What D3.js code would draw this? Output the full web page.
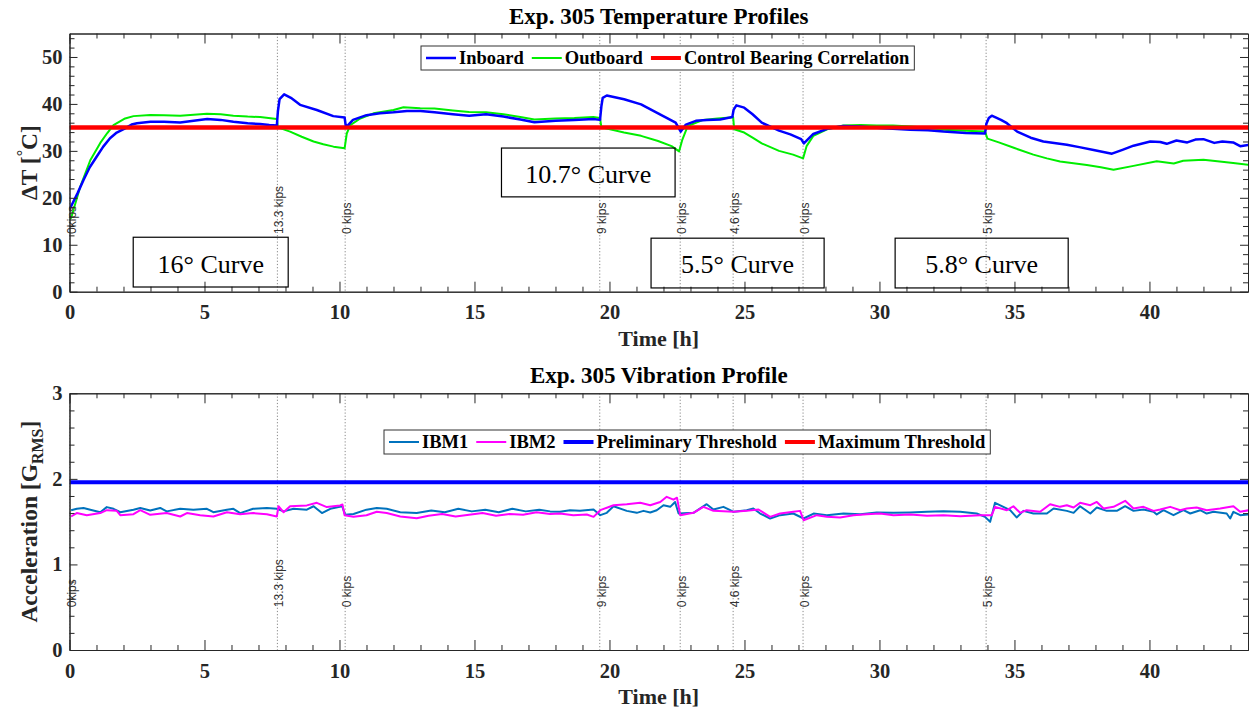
<!DOCTYPE html>
<html>
<head>
<meta charset="utf-8">
<script src="https://cdn.jsdelivr.net/npm/d3@7"></script>
<style>
  body { margin: 0; background: #fff; }
  svg { display: block; }
  text { font-family: "Liberation Serif", "Times New Roman", serif; }
</style>
</head>
<body>
<div id="chart"></div>
<script>
// ---- temperature profiles (deg C vs hours) ----
const inboardTime = [0, 0.06, 0.3, 0.52, 0.75, 1.01, 1.25, 1.5, 1.75, 2.06, 2.3, 2.5, 3.0, 3.5, 4.1, 4.6, 5.1, 5.6, 6.07, 6.6, 7.06, 7.4, 7.68, 7.72, 7.78, 7.95, 8.2, 8.54, 9.16, 9.77, 10.19, 10.24, 10.5, 11.0, 11.5, 12.0, 12.5, 13.0, 13.52, 14.2, 14.8, 15.43, 16.07, 16.7, 17.22, 18.0, 18.7, 19.4, 19.65, 19.7, 19.75, 19.9, 20.54, 21.17, 21.8, 22.45, 22.64, 22.83, 23.2, 23.6, 24.1, 24.55, 24.6, 24.7, 24.99, 25.3, 25.64, 26.02, 26.28, 26.7, 27.1, 27.2, 27.55, 28.06, 28.66, 29.3, 29.9, 30.5, 31.14, 31.8, 32.37, 33.2, 33.91, 33.96, 34.05, 34.16, 34.5, 34.72, 35.1, 35.6, 36.07, 36.94, 37.4, 37.93, 38.61, 39.0, 39.41, 40.03, 40.4, 40.64, 41.0, 41.2, 41.4, 41.7, 42.0, 42.4, 42.7, 43.1, 43.36, 43.7];
const inboardTemp = [17.5, 18.2, 21.0, 23.8, 26.5, 28.8, 30.9, 32.7, 33.9, 34.8, 35.6, 35.9, 36.2, 36.2, 36.05, 36.4, 36.8, 36.6, 36.2, 35.9, 35.7, 35.5, 35.4, 38.5, 41.0, 42.05, 41.3, 39.8, 38.7, 37.4, 37.1, 35.0, 36.6, 37.6, 38.0, 38.2, 38.5, 38.5, 38.2, 37.8, 37.5, 37.8, 37.3, 36.7, 36.1, 36.4, 36.6, 36.8, 36.6, 39.5, 41.3, 41.8, 41.0, 39.9, 38.0, 36.0, 34.1, 35.6, 36.4, 36.6, 36.7, 37.2, 38.8, 39.7, 39.2, 37.8, 36.0, 35.0, 34.3, 33.5, 32.5, 31.6, 33.6, 34.7, 35.3, 35.2, 34.9, 34.7, 34.5, 34.4, 34.1, 33.8, 33.7, 35.8, 37.0, 37.5, 36.6, 35.9, 34.1, 32.8, 32.0, 31.3, 30.8, 30.2, 29.4, 30.2, 31.1, 32.0, 31.9, 31.5, 32.2, 32.0, 31.8, 32.4, 32.5, 31.7, 32.0, 31.8, 31.0, 31.3];
const outboardTime = [0, 0.06, 0.4, 0.77, 1.14, 1.4, 1.63, 2.06, 2.37, 2.99, 3.5, 4.1, 4.6, 5.09, 5.6, 6.07, 6.6, 7.06, 7.68, 7.72, 8.17, 8.6, 9.04, 9.4, 9.78, 10.19, 10.27, 10.4, 10.77, 11.26, 12.0, 12.37, 12.99, 13.52, 14.2, 14.8, 15.43, 16.07, 16.7, 17.22, 18.0, 18.7, 19.4, 19.65, 19.7, 20.54, 21.17, 21.8, 22.3, 22.58, 22.7, 22.9, 23.47, 24.0, 24.48, 24.58, 24.62, 24.99, 25.3, 25.64, 26.28, 26.8, 27.17, 27.3, 27.55, 28.06, 28.66, 29.3, 29.9, 30.5, 31.14, 31.8, 32.37, 33.2, 33.91, 34.0, 34.42, 35.0, 35.7, 36.2, 36.69, 37.68, 38.2, 38.67, 39.41, 40.27, 40.9, 41.25, 42.0, 42.6, 43.1, 43.7];
const outboardTemp = [15.5, 15.7, 22.4, 28.0, 31.7, 33.8, 35.5, 36.9, 37.4, 37.65, 37.6, 37.5, 37.7, 37.9, 37.8, 37.5, 37.3, 37.2, 36.8, 35.0, 34.1, 33.0, 32.0, 31.4, 30.9, 30.55, 33.7, 35.5, 36.9, 38.0, 38.7, 39.3, 39.1, 39.0, 38.6, 38.3, 38.2, 37.8, 37.2, 36.7, 36.9, 37.0, 37.2, 37.0, 35.0, 33.9, 33.2, 32.1, 31.0, 29.9, 32.4, 35.3, 36.6, 36.9, 37.1, 37.2, 34.6, 33.9, 32.8, 31.6, 30.0, 29.2, 28.4, 31.0, 33.2, 34.6, 35.4, 35.5, 35.4, 35.4, 35.2, 34.9, 34.5, 34.3, 34.1, 32.6, 31.8, 30.6, 29.2, 28.4, 27.75, 27.0, 26.5, 25.98, 26.8, 27.8, 27.3, 27.9, 28.1, 27.75, 27.4, 27.0];
const controlCorrelation = 35;

// ---- vibration profiles (G RMS vs hours) ----
const ibm1Time = [0.06, 0.27, 0.52, 0.77, 1.14, 1.38, 1.63, 1.88, 2.37, 2.62, 2.99, 3.36, 3.6, 4.1, 4.59, 5.09, 5.33, 5.83, 6.07, 6.32, 6.8, 7.31, 7.68, 7.93, 8.3, 8.79, 9.04, 9.35, 9.66, 10.1, 10.21, 10.52, 11.0, 11.38, 11.75, 12.25, 12.86, 13.4, 13.9, 14.4, 14.9, 15.4, 15.9, 16.4, 16.9, 17.4, 17.8, 18.17, 18.54, 18.91, 19.41, 19.66, 19.9, 20.15, 20.64, 21.01, 21.26, 21.51, 21.75, 22.0, 22.25, 22.43, 22.56, 23.11, 23.6, 23.85, 24.22, 24.6, 25.08, 25.33, 25.58, 25.95, 26.32, 26.81, 27.19, 27.56, 28.05, 28.67, 29.29, 29.9, 30.52, 31.14, 31.76, 32.37, 32.99, 33.6, 33.91, 34.1, 34.28, 34.59, 34.84, 35.08, 35.33, 35.7, 35.83, 36.2, 36.45, 36.94, 37.19, 37.43, 37.81, 38.05, 38.42, 38.79, 39.1, 39.41, 39.78, 40.15, 40.27, 40.52, 40.89, 41.26, 41.51, 41.88, 42.12, 42.37, 42.86, 42.99, 43.11, 43.36, 43.69];
const ibm1Acc = [1.634, 1.65, 1.66, 1.64, 1.61, 1.67, 1.65, 1.61, 1.64, 1.66, 1.63, 1.66, 1.62, 1.65, 1.64, 1.65, 1.61, 1.64, 1.65, 1.60, 1.65, 1.66, 1.65, 1.62, 1.65, 1.64, 1.68, 1.60, 1.65, 1.68, 1.58, 1.59, 1.64, 1.66, 1.65, 1.61, 1.60, 1.63, 1.61, 1.65, 1.62, 1.64, 1.61, 1.65, 1.62, 1.64, 1.62, 1.615, 1.634, 1.626, 1.642, 1.576, 1.603, 1.68, 1.626, 1.603, 1.626, 1.607, 1.634, 1.692, 1.673, 1.73, 1.595, 1.603, 1.704, 1.642, 1.673, 1.615, 1.634, 1.653, 1.595, 1.537, 1.576, 1.595, 1.537, 1.595, 1.576, 1.595, 1.587, 1.607, 1.603, 1.607, 1.615, 1.622, 1.615, 1.595, 1.556, 1.498, 1.72, 1.673, 1.634, 1.549, 1.626, 1.595, 1.595, 1.595, 1.653, 1.626, 1.603, 1.68, 1.595, 1.665, 1.626, 1.626, 1.68, 1.626, 1.642, 1.615, 1.584, 1.634, 1.576, 1.634, 1.595, 1.634, 1.595, 1.615, 1.595, 1.537, 1.615, 1.576, 1.584];
const ibm2Time = [0.06, 0.27, 0.64, 1.14, 1.38, 1.75, 1.88, 2.37, 2.62, 2.99, 3.6, 4.1, 4.35, 4.84, 5.33, 5.83, 6.32, 6.8, 7.31, 7.68, 7.74, 7.93, 8.17, 8.79, 9.16, 9.53, 10.02, 10.11, 10.19, 10.52, 11.0, 11.38, 11.75, 12.25, 12.86, 13.3, 13.8, 14.3, 14.8, 15.3, 15.8, 16.3, 16.8, 17.3, 17.8, 18.17, 18.66, 19.16, 19.41, 19.66, 20.15, 20.64, 21.14, 21.51, 21.88, 22.12, 22.37, 22.5, 22.62, 23.11, 23.48, 23.85, 24.6, 25.08, 25.52, 25.95, 26.32, 26.81, 27.06, 27.19, 27.68, 28.05, 28.54, 29.04, 29.53, 30.02, 30.52, 31.14, 31.76, 32.37, 32.99, 33.73, 34.16, 34.28, 34.72, 34.96, 35.21, 35.45, 35.95, 36.32, 36.69, 36.94, 37.19, 37.43, 37.81, 38.05, 38.3, 38.67, 39.1, 39.41, 39.78, 40.15, 40.4, 40.77, 41.14, 41.38, 41.75, 42.12, 42.62, 43.11, 43.36, 43.69];
const ibm2Acc = [1.56, 1.60, 1.575, 1.60, 1.634, 1.626, 1.575, 1.587, 1.634, 1.58, 1.60, 1.56, 1.60, 1.575, 1.56, 1.61, 1.587, 1.60, 1.587, 1.56, 1.68, 1.61, 1.68, 1.69, 1.72, 1.67, 1.69, 1.70, 1.575, 1.556, 1.575, 1.615, 1.60, 1.56, 1.54, 1.57, 1.59, 1.56, 1.58, 1.60, 1.57, 1.59, 1.58, 1.61, 1.59, 1.595, 1.576, 1.584, 1.556, 1.634, 1.692, 1.704, 1.72, 1.692, 1.73, 1.79, 1.757, 1.78, 1.576, 1.603, 1.673, 1.626, 1.615, 1.626, 1.642, 1.556, 1.595, 1.615, 1.626, 1.517, 1.576, 1.556, 1.549, 1.576, 1.587, 1.595, 1.576, 1.584, 1.568, 1.576, 1.564, 1.576, 1.576, 1.673, 1.634, 1.68, 1.603, 1.634, 1.615, 1.704, 1.673, 1.692, 1.665, 1.72, 1.692, 1.73, 1.653, 1.673, 1.743, 1.653, 1.673, 1.626, 1.642, 1.673, 1.634, 1.653, 1.665, 1.634, 1.653, 1.68, 1.615, 1.634];
const preliminaryThreshold = 1.96;
const maximumThreshold = 4.0; // sits above the 0-3 window

// ---- load changes and curve annotations ----
const loadTimes = [0, 7.7, 10.21, 19.64, 22.62, 24.58, 27.17, 33.95];
const loadLabels = ["0kips", "13.3 kips", "0 kips", "9 kips", "0 kips", "4.6 kips", "0 kips", "5 kips"];
const curveLabels = ["16° Curve", "10.7° Curve", "5.5° Curve", "5.8° Curve"];
const curveFrom = [2.36, 16.0, 21.54, 30.58];
const curveTo = [8.1, 22.43, 27.95, 36.99];
const curveHigh = [11.6, 30.6, 11.4, 11.4];
const curveLow = [1.0, 20.2, 0.8, 0.8];

const xTicks = [0, 5, 10, 15, 20, 25, 30, 35, 40];

const width = 1249;
const height = 711;
const ink = "#262626";

const svg = d3.select("#chart").append("svg")
  .attr("width", width)
  .attr("height", height);

const x = d3.scaleLinear().domain([0, 43.65]).range([69.5, 1248]);

const zip = (ts, vs) => ts.map((t, i) => ({ t: t, v: vs[i] }));

function panel(opt) {
  const y = d3.scaleLinear().domain([0, opt.yMax]).range([opt.bottom, opt.top]);
  const g = svg.append("g");

  g.append("clipPath").attr("id", opt.id + "-clip")
    .append("rect")
    .attr("x", x.range()[0]).attr("y", opt.top)
    .attr("width", x.range()[1] - x.range()[0])
    .attr("height", opt.bottom - opt.top);

  // title and axis labels
  g.append("text")
    .attr("x", (x.range()[0] + x.range()[1]) / 2)
    .attr("y", opt.top - 10)
    .attr("text-anchor", "middle")
    .style("font-weight", "bold").style("font-size", "23px")
    .text(opt.title);

  g.append("text")
    .attr("x", (x.range()[0] + x.range()[1]) / 2)
    .attr("y", opt.bottom + 54)
    .attr("text-anchor", "middle")
    .style("font-weight", "bold").style("font-size", "22px")
    .attr("fill", ink)
    .text("Time [h]");

  const yl = g.append("text")
    .attr("transform", `translate(37,${(opt.top + opt.bottom) / 2}) rotate(-90)`)
    .attr("text-anchor", "middle")
    .style("font-weight", "bold").style("font-size", "23.5px")
    .attr("fill", ink);
  opt.yLabel(yl);

  // vertical load lines
  const plot = g.append("g").attr("clip-path", `url(#${opt.id}-clip)`);
  plot.selectAll(".load").data(loadTimes).enter().append("line")
    .attr("x1", (d) => x(d)).attr("x2", (d) => x(d))
    .attr("y1", opt.top).attr("y2", opt.bottom)
    .attr("stroke", "#888").attr("stroke-width", 1)
    .attr("stroke-dasharray", "1.2,2");

  g.selectAll(".loadtxt").data(loadTimes).enter().append("text")
    .attr("transform", (d) => `translate(${x(d) + 6},${y(opt.labelAt)}) rotate(-90)`)
    .style("font-family", "'Liberation Sans', Arial, sans-serif")
    .style("font-size", "12px")
    .attr("fill", "#333")
    .text((d, i) => loadLabels[i]);

  // horizontal reference lines
  opt.refs.forEach((r) => {
    plot.append("line")
      .attr("x1", x.range()[0]).attr("x2", x.range()[1])
      .attr("y1", y(r.v)).attr("y2", y(r.v))
      .attr("stroke", r.color).attr("stroke-width", 4);
  });

  // data series
  const line = d3.line().x((d) => x(d.t)).y((d) => y(d.v));
  opt.series.forEach((s) => {
    plot.append("path")
      .datum(s.data)
      .attr("d", line)
      .attr("fill", "none")
      .attr("stroke", s.color)
      .attr("stroke-width", s.width)
      .attr("stroke-linejoin", "round");
  });
  // reference lines on top for temperature chart
  if (opt.refsOnTop) {
    opt.refs.forEach((r) => {
      plot.append("line")
        .attr("x1", x.range()[0]).attr("x2", x.range()[1])
        .attr("y1", y(r.v)).attr("y2", y(r.v))
        .attr("stroke", r.color).attr("stroke-width", 4);
    });
  }

  // axes (MATLAB style box with inward ticks)
  const xMinor = d3.range(0, 44, 1).filter((d) => d % 5 !== 0);
  const yMinor = d3.range(0, opt.yMax + 1e-9, opt.yMinor).filter((d) => Math.abs(d / opt.yStep - Math.round(d / opt.yStep)) > 1e-6);
  const yMajor = d3.range(0, opt.yMax + 1e-9, opt.yStep);

  const axes = [
    [d3.axisBottom(x).tickValues(xTicks).tickSize(-10).tickPadding(13).tickFormat(d3.format("d")), `translate(0,${opt.bottom})`],
    [d3.axisBottom(x).tickValues(xMinor).tickSize(-5).tickFormat(""), `translate(0,${opt.bottom})`],
    [d3.axisTop(x).tickValues(xTicks).tickSize(-10).tickFormat(""), `translate(0,${opt.top})`],
    [d3.axisTop(x).tickValues(xMinor).tickSize(-5).tickFormat(""), `translate(0,${opt.top})`],
    [d3.axisLeft(y).tickValues(yMajor).tickSize(-8).tickPadding(7).tickFormat(d3.format("d")), `translate(${x.range()[0]},0)`],
    [d3.axisLeft(y).tickValues(yMinor).tickSize(-5).tickFormat(""), `translate(${x.range()[0]},0)`],
    [d3.axisRight(y).tickValues(yMajor).tickSize(-8).tickFormat(""), `translate(${x.range()[1]},0)`],
    [d3.axisRight(y).tickValues(yMinor).tickSize(-5).tickFormat(""), `translate(${x.range()[1]},0)`]
  ];
  axes.forEach(([ax, tr]) => {
    const a = g.append("g").attr("transform", tr).call(ax.tickSizeOuter(0));
    a.attr("font-family", null).attr("font-size", null);
    a.select(".domain").attr("stroke", ink);
    a.selectAll(".tick line").attr("stroke", ink);
    a.selectAll(".tick text")
      .attr("fill", ink)
      .style("font-weight", "bold")
      .style("font-size", "20.5px");
  });

  // curve annotation boxes
  if (opt.curves) {
    curveLabels.forEach((c, i) => {
      g.append("rect")
        .attr("x", x(curveFrom[i])).attr("y", y(curveHigh[i]))
        .attr("width", x(curveTo[i]) - x(curveFrom[i]))
        .attr("height", y(curveLow[i]) - y(curveHigh[i]))
        .attr("fill", "none").attr("stroke", "#000").attr("stroke-width", 1.2);
      g.append("text")
        .attr("x", (x(curveFrom[i]) + x(curveTo[i])) / 2)
        .attr("y", (y(curveHigh[i]) + y(curveLow[i])) / 2)
        .attr("dy", "0.4em")
        .attr("text-anchor", "middle")
        .style("font-size", "26px")
        .text(c);
    });
  }

  legend(g, opt.legend);
}

function legend(g, opt) {
  const lg = g.append("g").attr("transform", `translate(${opt.x},${opt.y})`);
  const box = lg.append("rect")
    .attr("height", opt.h)
    .attr("fill", "#fff").attr("stroke", "#333").attr("stroke-width", 1);
  let cx = 5;
  opt.items.forEach((it) => {
    lg.append("line")
      .attr("x1", cx).attr("x2", cx + 30)
      .attr("y1", opt.h / 2).attr("y2", opt.h / 2)
      .attr("stroke", it.color).attr("stroke-width", it.width);
    const t = lg.append("text")
      .attr("x", cx + 33).attr("y", opt.h / 2)
      .attr("dy", "0.34em")
      .style("font-weight", "bold").style("font-size", "18.5px")
      .text(it.label);
    cx += 33 + t.node().getComputedTextLength() + 8;
  });
  box.attr("width", cx - 3);
}

panel({
  id: "temp",
  top: 33.5, bottom: 291.7, yMax: 55, yStep: 10, yMinor: 2,
  title: "Exp. 305 Temperature Profiles",
  yLabel: (t) => {
    t.append("tspan").text("ΔT [");
    t.append("tspan").attr("dy", -9).style("font-size", "16px").text("°");
    t.append("tspan").attr("dy", 9).text("C]");
  },
  labelAt: 12.3,
  refs: [{ v: controlCorrelation, color: "#ff0000" }],
  refsOnTop: true,
  series: [
    { data: zip(outboardTime, outboardTemp), color: "#00ee00", width: 2 },
    { data: zip(inboardTime, inboardTemp), color: "#0000ff", width: 2.5 }
  ],
  curves: true,
  legend: {
    x: 421, y: 46, h: 24,
    items: [
      { label: "Inboard", color: "#0000ff", width: 2.5 },
      { label: "Outboard", color: "#00ee00", width: 2 },
      { label: "Control Bearing Correlation", color: "#ff0000", width: 4 }
    ]
  }
});

panel({
  id: "vib",
  top: 393.3, bottom: 650, yMax: 3, yStep: 1, yMinor: 0.2,
  title: "Exp. 305 Vibration Profile",
  yLabel: (t) => {
    t.append("tspan").text("Acceleration [G");
    t.append("tspan").attr("dy", 6).style("font-size", "16px").text("RMS");
    t.append("tspan").attr("dy", -6).text("]");
  },
  labelAt: 0.5,
  refs: [
    { v: preliminaryThreshold, color: "#0000ff" },
    { v: maximumThreshold, color: "#ff0000" }
  ],
  refsOnTop: false,
  series: [
    { data: zip(ibm1Time, ibm1Acc), color: "#0072bd", width: 2 },
    { data: zip(ibm2Time, ibm2Acc), color: "#ff00ff", width: 2 }
  ],
  curves: false,
  legend: {
    x: 384, y: 430, h: 24,
    items: [
      { label: "IBM1", color: "#0072bd", width: 2 },
      { label: "IBM2", color: "#ff00ff", width: 2 },
      { label: "Preliminary Threshold", color: "#0000ff", width: 4 },
      { label: "Maximum Threshold", color: "#ff0000", width: 4 }
    ]
  }
});
</script>
</body>
</html>
